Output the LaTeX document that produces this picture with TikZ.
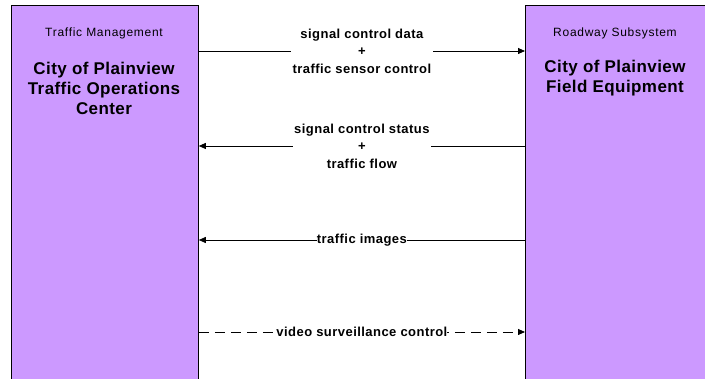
\documentclass[tikz,border=0pt]{standalone}
\usepackage{fontspec}
\setmainfont{Liberation Sans}
\newfontfamily\kindfont[LetterSpace=6]{Liberation Sans}
\newfontfamily\namefont[LetterSpace=2.5]{Liberation Sans}
\newfontfamily\flowfont[LetterSpace=3.5]{Liberation Sans}
\usepackage{xcolor}
\usepackage{tikz}
\usetikzlibrary{arrows.meta}
\usetikzlibrary{positioning}

\definecolor{syspurple}{HTML}{CC99FF}

\begin{document}
\begin{tikzpicture}[x=1pt, y=-1pt,
    system/.style={draw, fill=syspurple, line width=0.8pt, anchor=north west,
      minimum width=187pt, minimum height=400pt, inner sep=0pt},
    kind/.style={font=\kindfont\fontsize{12}{13}\selectfont},
    sysname/.style={font=\namefont\bfseries\fontsize{17}{20}\selectfont, align=center},
    flow/.style={line width=0.8pt, -{Triangle[length=7pt,width=6pt]}},
    flowlabel/.style={fill=white, align=center, inner sep=1pt,
      font=\flowfont\bfseries\fontsize{13}{17.5}\selectfont}]

    \useasboundingbox (0,0) rectangle (705,379);

    % the two systems
    \node[system] (tmc) at (11,5) {};
    \node[system, minimum width=220pt] (rs) at (525,5) {};

    \node[kind] (tmckind) at (104,33) {Traffic Management};
    \node[sysname] (tmcname) at (104,88) {City of Plainview\\Traffic Operations\\Center};
    \node[kind] (rskind) at (615,33) {Roadway Subsystem};
    \node[sysname] (rsname) at (615,78) {City of Plainview\\Field Equipment};

    % flows
    \coordinate (y1) at (0,51);
    \coordinate (y2) at (0,146);
    \coordinate (y3) at (0,240);
    \coordinate (y4) at (0,332);

    \draw[flow] (tmc.east |- y1) -- (rs.west |- y1)
      node[midway, flowlabel, inner xsep=2pt] (f1) {signal control data\\+\\traffic sensor control};
    \draw[flow] (rs.west |- y2) -- (tmc.east |- y2)
      node[midway, flowlabel] (f2) {signal control status\\+\\traffic flow};
    \draw[flow] (rs.west |- y3) -- (tmc.east |- y3)
      node[midway, flowlabel, inner sep=0pt] (f3) {traffic images};
    \draw[flow, dash pattern=on 10pt off 6pt] (tmc.east |- y4) -- (rs.west |- y4)
      node[midway, flowlabel, inner sep=0pt] (f4) {video surveillance control};

\end{tikzpicture}
\end{document}
